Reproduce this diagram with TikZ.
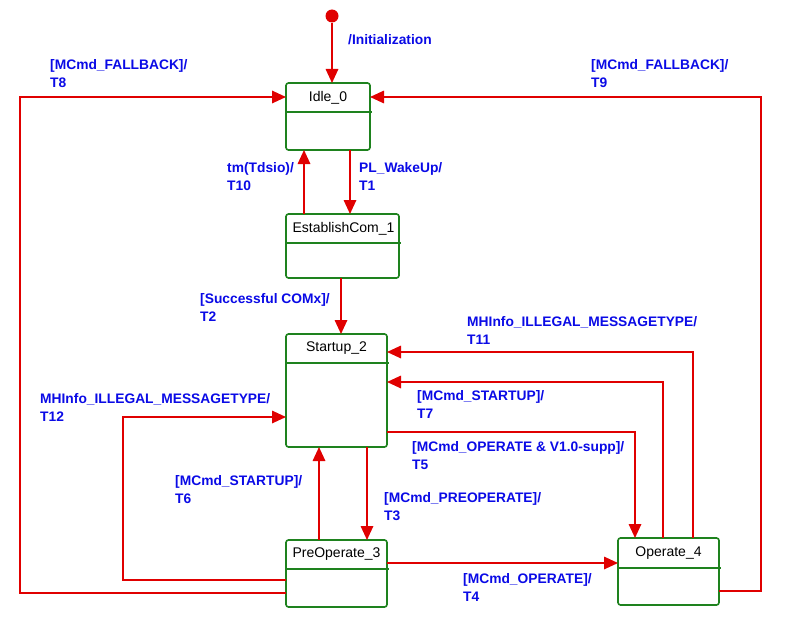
\documentclass[tikz,border=0pt]{standalone}
\usepackage{fontspec}
\setmainfont{Liberation Sans}
\usetikzlibrary{arrows.meta,calc}
\definecolor{tred}{RGB}{224,0,0}
\definecolor{tgreen}{RGB}{30,130,30}
\definecolor{tblue}{RGB}{10,10,230}
\begin{document}
\begin{tikzpicture}[x=1pt,y=-1pt,
  statebox/.style={draw=tgreen, line width=1.6pt, rounded corners=2.5pt, anchor=north west, inner sep=0pt, outer sep=0pt},
  divider/.style={draw=tgreen, line width=1.6pt},
  namebox/.style={font=\fontsize{14}{16}\selectfont, text=black, inner sep=0pt},
  trans/.style={draw=tred, line width=1.7pt, -{Triangle[length=14pt,width=12.5pt]}},
  tlabel/.style={font=\bfseries\fontsize{13.8}{18}\selectfont, text=tblue, anchor=base west, align=left, inner sep=0pt}]
\useasboundingbox (0,0) rectangle (790,626);

% states
\node[statebox, minimum width=84pt, minimum height=67pt] (idle) at (286,83) {};
\node[statebox, minimum width=113pt, minimum height=64pt] (est) at (286,214) {};
\node[statebox, minimum width=101pt, minimum height=113pt] (start) at (286,334) {};
\node[statebox, minimum width=101pt, minimum height=67pt] (pre) at (286,540) {};
\node[statebox, minimum width=101pt, minimum height=67pt] (op) at (618,538) {};

\draw[divider] ($(idle.north west)+(0,29)$) -- ++(86,0);
\draw[divider] ($(est.north west)+(0,29)$) -- ++(115,0);
\draw[divider] ($(start.north west)+(0,29)$) -- ++(103,0);
\draw[divider] ($(pre.north west)+(0,29)$) -- ++(103,0);
\draw[divider] ($(op.north west)+(0,30)$) -- ++(103,0);

\node[namebox] (idlet) at ($(idle.north)+(0,14.5)$) {Idle\_0};
\node[namebox] (estt) at ($(est.north)+(1,14.5)$) {EstablishCom\_1};
\node[namebox] (startt) at ($(start.north)+(0,14.5)$) {Startup\_2};
\node[namebox] (pret) at ($(pre.north)+(0,14.5)$) {PreOperate\_3};
\node[namebox] (opt) at ($(op.north)+(0,15)$) {Operate\_4};

\node[circle, fill=tred, minimum size=13pt, inner sep=0pt] (init) at (332,16) {};

% helper coordinates
\coordinate (c10) at (304,0);
\coordinate (c1) at (350,0);
\coordinate (c2) at (341,0);
\coordinate (c3) at (367,0);
\coordinate (c6) at (319,0);
\coordinate (c11) at (693,352);
\coordinate (c7) at (663,382);
\coordinate (c5) at (635,432);
\coordinate (r4) at (0,563);
\coordinate (r8) at (0,593);
\coordinate (t8) at (20,97);
\coordinate (r9) at (0,591);
\coordinate (t9) at (761,97);
\coordinate (r12) at (0,580);
\coordinate (t12) at (123,417);

% transitions
\draw[trans] (init.south) -- (init.south |- idle.north);
\draw[trans] (idle.south -| c1) -- (est.north -| c1);
\draw[trans] (est.north -| c10) -- (idle.south -| c10);
\draw[trans] (est.south -| c2) -- (start.north -| c2);
\draw[trans] (start.south -| c3) -- (pre.north -| c3);
\draw[trans] (pre.north -| c6) -- (start.south -| c6);
\draw[trans] (pre.east |- r4) -- (op.west |- r4);
\draw[trans] (start.east |- c5) -- (c5) -- (op.north -| c5);
\draw[trans] (op.north -| c7) -- (c7) -- (start.east |- c7);
\draw[trans] (op.north -| c11) -- (c11) -- (start.east |- c11);
\draw[trans] (pre.west |- r8) -| (t8) -- (idle.west |- t8);
\draw[trans] (op.east |- r9) -| (t9) -- (idle.east |- t9);
\draw[trans] (pre.west |- r12) -| (t12) -- (start.west |- t12);

% labels (base anchor = baseline of last line)
\node[tlabel] (linit) at (348,45) {/Initialization};
\node[tlabel] (l8) at (50,88) {[MCmd\_FALLBACK]/\\T8};
\node[tlabel] (l9) at (591,88) {[MCmd\_FALLBACK]/\\T9};
\node[tlabel] (l10) at (227,190) {tm(Tdsio)/\\T10};
\node[tlabel] (l1) at (359,190) {PL\_WakeUp/\\T1};
\node[tlabel] (l2) at (200,321) {[Successful COMx]/\\T2};
\node[tlabel] (l11) at (467,344) {MHInfo\_ILLEGAL\_MESSAGETYPE/\\T11};
\node[tlabel] (l7) at (417,418) {[MCmd\_STARTUP]/\\T7};
\node[tlabel] (l12) at (40,421) {MHInfo\_ILLEGAL\_MESSAGETYPE/\\T12};
\node[tlabel] (l5) at (412,469) {[MCmd\_OPERATE \& V1.0-supp]/\\T5};
\node[tlabel] (l6) at (175,503) {[MCmd\_STARTUP]/\\T6};
\node[tlabel] (l3) at (384,520) {[MCmd\_PREOPERATE]/\\T3};
\node[tlabel] (l4) at (463,601) {[MCmd\_OPERATE]/\\T4};
\end{tikzpicture}
\end{document}
